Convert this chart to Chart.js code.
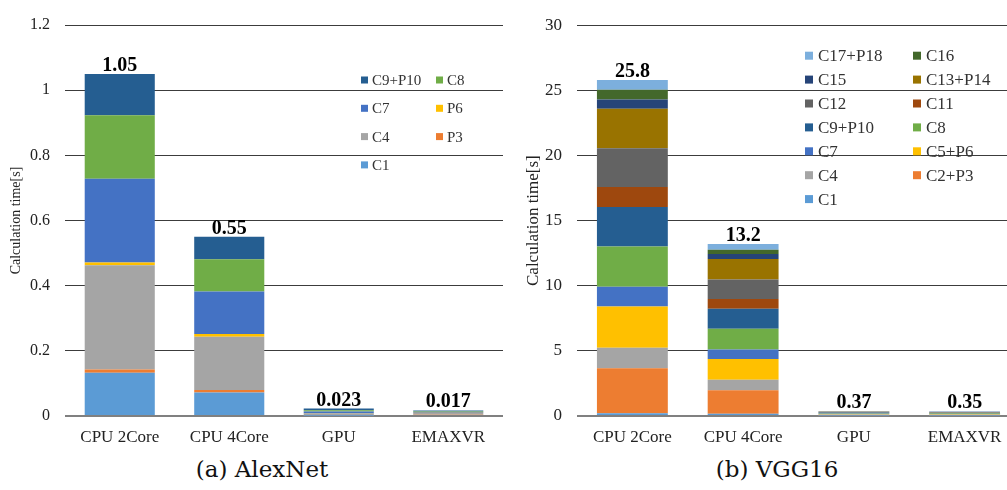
<!DOCTYPE html>
<html>
<head>
<meta charset="utf-8">
<script src="https://cdn.jsdelivr.net/npm/chart.js@4/dist/chart.umd.min.js"></script>
<style>
  html, body { margin: 0; padding: 0; background: #fff; }
  body { width: 1007px; height: 490px; overflow: hidden; position: relative; }
  canvas { position: absolute; top: 0; }
  #cA { left: 0; }
  #cB { left: 505px; }
  .cap { position: absolute; top: 456px; transform: translateX(-50%); font-family: "DejaVu Serif", serif; font-size: 23px; line-height: 26px; color: #111; white-space: nowrap; }
</style>
</head>
<body>
<canvas id="cA" width="503" height="456"></canvas>
<canvas id="cB" width="515" height="456"></canvas>
<div class="cap" style="left:262px">(a) AlexNet</div>
<div class="cap" style="left:777px">(b) VGG16</div>
<script>
// Platforms compared
const categories = ['CPU 2Core', 'CPU 4Core', 'GPU', 'EMAXVR'];

// ---- AlexNet: per-layer calculation time [s] ----
const alexC1   = [0.133, 0.072, 0.001, 0.003];
const alexP3   = [0.010, 0.008, 0.0005, 0.001];
const alexC4   = [0.320, 0.163, 0.0055, 0.005];
const alexP6   = [0.008, 0.009, 0.0005, 0.001];
const alexC7   = [0.257, 0.130, 0.0065, 0.003];
const alexC8   = [0.195, 0.099, 0.004, 0.002];
const alexC9P10 = [0.127, 0.069, 0.005, 0.002];
const alexTotals = ['1.05', '0.55', '0.023', '0.017'];
const alexTicks = ['0', '0.2', '0.4', '0.6', '0.8', '1', '1.2'];

// ---- VGG16: per-layer calculation time [s] ----
const vggC1     = [0.22, 0.17, 0.02, 0.02];
const vggC2P3   = [3.45, 1.81, 0.06, 0.05];
const vggC4     = [1.56, 0.80, 0.03, 0.03];
const vggC5P6   = [3.18, 1.59, 0.05, 0.04];
const vggC7     = [1.51, 0.74, 0.02, 0.02];
const vggC8     = [3.10, 1.59, 0.04, 0.04];
const vggC9P10  = [3.03, 1.53, 0.04, 0.04];
const vggC11    = [1.53, 0.75, 0.02, 0.02];
const vggC12    = [2.98, 1.49, 0.02, 0.02];
const vggC13P14 = [3.03, 1.58, 0.03, 0.03];
const vggC15    = [0.71, 0.38, 0.01, 0.01];
const vggC16    = [0.75, 0.34, 0.01, 0.01];
const vggC17P18 = [0.75, 0.43, 0.02, 0.02];
const vggTotals = ['25.8', '13.2', '0.37', '0.35'];
const vggTicks = ['0', '5', '10', '15', '20', '25', '30'];

const SERIF = "'Liberation Serif', 'Times New Roman', Times, serif";

function ds(label, data, color) {
  return { label, data, backgroundColor: color, borderWidth: 0 };
}

// Totals printed above each stacked bar
const stackLabels = {
  id: 'stackLabels',
  afterDatasetsDraw(chart, args, opts) {
    const { ctx, scales: { x, y } } = chart;
    ctx.save();
    ctx.font = opts.font;
    ctx.fillStyle = '#000';
    ctx.textAlign = 'center';
    ctx.textBaseline = 'alphabetic';
    chart.data.labels.forEach((lab, i) => {
      const total = chart.data.datasets.reduce((s, d) => s + d.data[i], 0);
      ctx.fillText(opts.texts[i], x.getPixelForValue(i), y.getPixelForValue(total) - opts.gap);
    });
    ctx.restore();
  }
};

// Two-column legend inside the plot area (last series first)
const gridLegend = {
  id: 'gridLegend',
  afterDraw(chart, args, opts) {
    const { ctx, chartArea } = chart;
    const items = chart.data.datasets.slice().reverse();
    ctx.save();
    ctx.font = opts.font;
    ctx.textBaseline = 'middle';
    ctx.textAlign = 'left';
    items.forEach((d, k) => {
      const col = k % 2, row = Math.floor(k / 2);
      const bx = chartArea.left + opts.x + col * opts.colGap;
      const cy = chartArea.top + opts.y + row * opts.rowGap;
      ctx.fillStyle = d.backgroundColor;
      ctx.fillRect(bx, cy - opts.box / 2, opts.box, opts.box);
      ctx.fillStyle = '#333';
      ctx.fillText(d.label, bx + opts.box + opts.textGap, cy + 1);
    });
    ctx.restore();
  }
};

function makeChart(canvasId, datasets, cfg) {
  return new Chart(document.getElementById(canvasId), {
    type: 'bar',
    data: { labels: categories, datasets },
    plugins: [stackLabels, gridLegend],
    options: {
      responsive: false,
      animation: false,
      devicePixelRatio: 1,
      layout: { padding: { top: cfg.padTop, left: 0, right: 0, bottom: 0 } },
      datasets: { bar: { barPercentage: 0.64, categoryPercentage: 1 } },
      plugins: {
        legend: { display: false },
        tooltip: { enabled: false },
        stackLabels: { texts: cfg.totals, font: 'bold 20px ' + SERIF, gap: 3 },
        gridLegend: cfg.legend
      },
      scales: {
        x: {
          stacked: true,
          grid: { display: false, drawTicks: false },
          border: { display: false },
          ticks: { color: '#222', font: { family: SERIF, size: 17 }, padding: 11, maxRotation: 0 },
          afterFit(scale) { scale.height = 40; }
        },
        y: {
          stacked: true,
          min: 0,
          max: cfg.max,
          border: { display: false },
          grid: {
            drawTicks: false,
            color: c => c.tick && c.tick.value === 0 ? '#808080' : '#3c3c3c',
            lineWidth: c => c.tick && c.tick.value === 0 ? 2 : 1
          },
          ticks: {
            stepSize: cfg.step,
            padding: 15,
            color: '#222',
            font: { family: SERIF, size: cfg.tickSize },
            callback: (v, i) => cfg.ticks[i]
          },
          title: {
            display: true,
            text: 'Calculation time[s]',
            color: '#222',
            font: { family: SERIF, size: cfg.titleSize },
            padding: { top: cfg.titlePad, bottom: 0 }
          },
          afterFit(scale) { scale.width = cfg.axisWidth; }
        }
      }
    }
  });
}

makeChart('cA', [
  ds('C1', alexC1, '#5B9BD5'),
  ds('P3', alexP3, '#ED7D31'),
  ds('C4', alexC4, '#A5A5A5'),
  ds('P6', alexP6, '#FFC000'),
  ds('C7', alexC7, '#4472C4'),
  ds('C8', alexC8, '#70AD47'),
  ds('C9+P10', alexC9P10, '#255E91')
], {
  padTop: 25, max: 1.2, step: 0.2, ticks: alexTicks, totals: alexTotals,
  tickSize: 16, titleSize: 14, titlePad: 8, axisWidth: 65,
  legend: { font: '15px ' + SERIF, x: 296, y: 55, colGap: 75, rowGap: 28.3, box: 7, textGap: 4 }
});

makeChart('cB', [
  ds('C1', vggC1, '#5B9BD5'),
  ds('C2+P3', vggC2P3, '#ED7D31'),
  ds('C4', vggC4, '#A5A5A5'),
  ds('C5+P6', vggC5P6, '#FFC000'),
  ds('C7', vggC7, '#4472C4'),
  ds('C8', vggC8, '#70AD47'),
  ds('C9+P10', vggC9P10, '#255E91'),
  ds('C11', vggC11, '#9E480E'),
  ds('C12', vggC12, '#636363'),
  ds('C13+P14', vggC13P14, '#997300'),
  ds('C15', vggC15, '#264478'),
  ds('C16', vggC16, '#43682B'),
  ds('C17+P18', vggC17P18, '#7CAFDD')
], {
  padTop: 13, max: 30, step: 5, ticks: vggTicks, totals: vggTotals,
  tickSize: 17, titleSize: 17, titlePad: 18, axisWidth: 72,
  legend: { font: '17px ' + SERIF, x: 228, y: 30.5, colGap: 108, rowGap: 23.9, box: 8, textGap: 5 }
});
</script>
</body>
</html>
